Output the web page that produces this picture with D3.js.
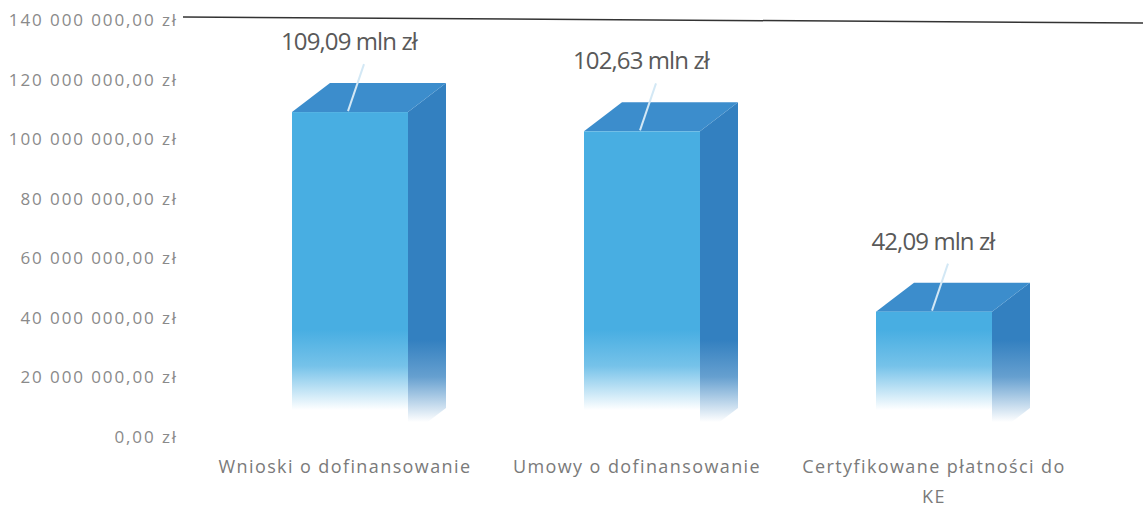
<!DOCTYPE html>
<html>
<head>
<meta charset="utf-8">
<script src="https://cdn.jsdelivr.net/npm/d3@7"></script>
<style>
  body { margin: 0; background: #fff; }
  text { font-family: "Open Sans", sans-serif; }
</style>
</head>
<body>
<div id="vis"></div>
<script>
var categories = ["Wnioski o dofinansowanie", "Umowy o dofinansowanie", "Certyfikowane płatności do KE"];
var categoryLines = [["Wnioski o dofinansowanie"], ["Umowy o dofinansowanie"], ["Certyfikowane płatności do", "KE"]];
var values = [109090000, 102630000, 42090000];
var valueLabels = ["109,09 mln zł", "102,63 mln zł", "42,09 mln zł"];
var ticks = [0, 20e6, 40e6, 60e6, 80e6, 100e6, 120e6, 140e6];

var width = 1143,
    height = 507;

var svg = d3.select("#vis").append("svg")
    .attr("width", width)
    .attr("height", height);

var y = d3.scaleLinear().domain([0, 140e6]).range([437, 20]);
var x = d3.scaleBand().domain(categories).range([204, 1080]);

var barW = 116, depthX = 38, depthY = 29;

function fmt(v) {
  var s = d3.format(",.2f")(v);
  return s.replace(/,/g, " ").replace(".", ",") + " zł";
}

var defs = svg.append("defs");
function fade(id, color, y1, y2) {
  var g = defs.append("linearGradient")
      .attr("id", id)
      .attr("gradientUnits", "userSpaceOnUse")
      .attr("x1", 0).attr("x2", 0)
      .attr("y1", y1).attr("y2", y2);
  g.append("stop").attr("offset", 0).attr("stop-color", color);
  g.append("stop").attr("offset", 0.45).attr("stop-color", color).attr("stop-opacity", 0.75);
  g.append("stop").attr("offset", 1).attr("stop-color", color).attr("stop-opacity", 0);
}
fade("front", "#48aee2", 330, 410);
fade("side", "#3380c0", 340, 422);

// y axis labels
svg.append("g").selectAll("text")
    .data(ticks)
    .enter().append("text")
    .attr("x", 178)
    .attr("y", function(d) { return y(d); })
    .attr("dy", "0.35em")
    .attr("text-anchor", "end")
    .attr("fill", "#8a8a8a")
    .style("font-size", "17px")
    .style("letter-spacing", "1.9px")
    .text(fmt);

// top line
svg.append("line")
    .attr("x1", 183).attr("x2", width)
    .attr("y1", y(140e6) - 3).attr("y2", y(140e6) + 3)
    .attr("stroke", "#333")
    .attr("stroke-width", 1.5);

var bars = svg.selectAll("g.bar")
    .data(values)
    .enter().append("g")
    .attr("class", "bar");

function x0(i) { return x(categories[i]) + x.bandwidth() / 2 - barW / 2; }

// side face
bars.append("path")
    .attr("fill", "url(#side)")
    .attr("d", function(d, i) {
      var l = x0(i) + barW, t = y(d), b = y(0);
      return "M" + [l, t] + "L" + [l + depthX, t - depthY] + "L" + [l + depthX, b - depthY] + "L" + [l, b] + "Z";
    });

// top face
bars.append("path")
    .attr("fill", "#3c8dcc")
    .attr("d", function(d, i) {
      var l = x0(i), t = y(d);
      return "M" + [l, t] + "L" + [l + depthX, t - depthY] + "L" + [l + barW + depthX, t - depthY] + "L" + [l + barW, t] + "Z";
    });

// front face
bars.append("rect")
    .attr("x", function(d, i) { return x0(i); })
    .attr("y", function(d) { return y(d); })
    .attr("width", barW)
    .attr("height", function(d) { return y(0) - y(d); })
    .attr("fill", "url(#front)");

// leader lines
bars.append("line")
    .attr("x1", function(d, i) { return x0(i) + 72; })
    .attr("x2", function(d, i) { return x0(i) + 56; })
    .attr("y1", function(d) { return y(d) - 48; })
    .attr("y2", function(d) { return y(d) - 1; })
    .attr("stroke", "#d3e8f5")
    .attr("stroke-width", 2);

// value labels
bars.append("text")
    .attr("x", function(d, i) { return x0(i) + 57; })
    .attr("y", function(d) { return y(d) - 62; })
    .attr("text-anchor", "middle")
    .attr("fill", "#595959")
    .style("font-size", "24px")
    .style("letter-spacing", "-0.9px")
    .text(function(d, i) { return valueLabels[i]; });

// category labels
svg.append("g").selectAll("text")
    .data(categories)
    .enter().append("text")
    .attr("y", 473)
    .attr("text-anchor", "middle")
    .attr("fill", "#7a7a7a")
    .style("font-size", "18px")
    .style("letter-spacing", "1.4px")
    .each(function(d, i) {
      d3.select(this).selectAll("tspan")
          .data(categoryLines[i])
          .enter().append("tspan")
          .attr("x", x(d) + x.bandwidth() / 2 - 5 + (i === 2 ? 5 : 0))
          .attr("dy", function(t, j) { return j === 0 ? 0 : 30; })
          .text(function(t) { return t; });
    });
</script>
</body>
</html>
